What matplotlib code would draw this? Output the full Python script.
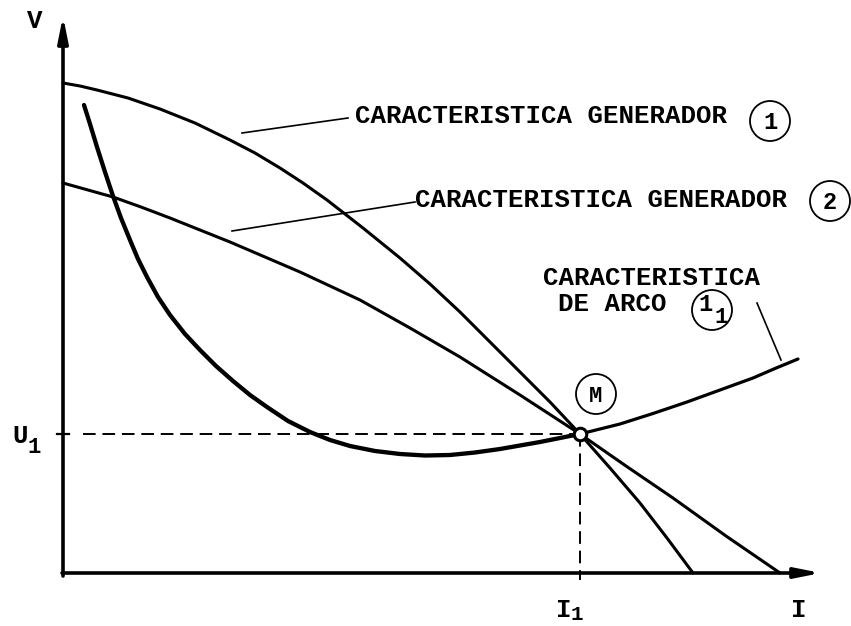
import numpy as np
import matplotlib
matplotlib.use("Agg")
import matplotlib.pyplot as plt
from matplotlib.patches import Circle

# Operating point M (current I1, voltage U1)
I1 = 5.17
U1 = 1.39

# Generator characteristic 1 (steep, falling)
gen1_I = [0.00, 0.17, 0.34, 0.65, 0.97, 1.32, 1.67, 1.92, 2.17, 2.40, 2.64,
          3.00, 3.37, 3.67, 3.97, 4.27, 4.57, 4.87, 5.17, 5.47, 5.77, 6.04, 6.30]
gen1_V = [4.90, 4.87, 4.83, 4.75, 4.64, 4.50, 4.33, 4.20, 4.05, 3.90, 3.73,
          3.45, 3.15, 2.89, 2.61, 2.31, 2.01, 1.71, 1.39, 1.05, 0.70, 0.35, 0.00]

# Generator characteristic 2 (flatter)
gen2_I = [0.00, 0.25, 0.50, 0.78, 1.07, 1.37, 1.67, 2.02, 2.37, 2.67, 2.97,
          3.47, 3.97, 4.57, 5.17, 5.63, 6.10, 6.63, 7.17]
gen2_V = [3.90, 3.83, 3.76, 3.66, 3.55, 3.43, 3.31, 3.16, 3.01, 2.87, 2.73,
          2.45, 2.16, 1.78, 1.39, 1.07, 0.75, 0.37, 0.00]

# Arc characteristic, falling part up to M
arc_I = [0.21, 0.27, 0.34, 0.42, 0.50, 0.58, 0.67, 0.75, 0.84, 0.95, 1.07,
         1.22, 1.37, 1.53, 1.70, 1.87, 2.04, 2.25, 2.47, 2.67, 2.87, 3.12,
         3.37, 3.62, 3.87, 4.12, 4.37, 4.57, 4.77, 4.97, 5.17]
arc_V = [4.68, 4.49, 4.26, 4.01, 3.77, 3.55, 3.33, 3.14, 2.96, 2.76, 2.58,
         2.39, 2.23, 2.07, 1.92, 1.78, 1.66, 1.52, 1.41, 1.33, 1.27, 1.22,
         1.19, 1.175, 1.18, 1.205, 1.24, 1.275, 1.31, 1.35, 1.39]
# rising branch after M
arc2_I = [5.17, 5.37, 5.57, 5.90, 6.24, 6.57, 6.90, 7.12, 7.35]
arc2_V = [1.39, 1.44, 1.49, 1.595, 1.71, 1.83, 1.95, 2.045, 2.14]

fig = plt.figure(figsize=(8.51, 6.26), dpi=100)
ax = fig.add_axes([0, 0, 1, 1])
ax.set_xlim(-0.63, 7.88)
ax.set_ylim(-0.53, 5.73)
ax.axis("off")

font = dict(family="Liberation Mono", weight="bold", color="black")
FS = 18.5

# axes with arrows
arrow = dict(arrowstyle="-|>,head_length=1.0,head_width=0.2", lw=2.6,
             color="black", mutation_scale=15, shrinkA=0, shrinkB=0)
ax.annotate("", xy=(0, 5.57), xytext=(0, -0.03), arrowprops=arrow)
ax.annotate("", xy=(7.58, 0), xytext=(-0.01, 0), arrowprops=arrow)

# curves
line = dict(color="black", solid_joinstyle="round", solid_capstyle="round")
ax.plot(gen1_I, gen1_V, lw=2.2, **line)
ax.plot(gen2_I, gen2_V, lw=2.2, **line)
ax.plot(arc_I, arc_V, lw=3.1, **line)
ax.plot(arc2_I, arc2_V, lw=2.3, **line)

# projection of M onto both axes
dash = (0, (6.5, 3.5))
ax.plot([-0.06, 0.06], [U1, U1], color="black", lw=1.6)
ax.plot([0.2, I1], [U1, U1], color="black", lw=1.4, linestyle=dash)
ax.plot([I1, I1], [U1, -0.07], color="black", lw=1.4, linestyle=dash)
ax.plot([I1], [U1], "o", ms=9, mfc="white", mec="black", mew=2.2, zorder=5)

# leader lines
lw_lead = 1.2
ax.plot([1.79, 2.85], [4.40, 4.55], color="black", lw=lw_lead)
ax.plot([1.69, 3.52], [3.42, 3.71], color="black", lw=lw_lead)
ax.plot([6.94, 7.18], [2.70, 2.13], color="black", lw=lw_lead)

# labels
ax.text(2.92, 4.50, "CARACTERISTICA GENERADOR", fontsize=FS, ha="left",
        va="baseline", **font)
ax.text(3.52, 3.66, "CARACTERISTICA GENERADOR", fontsize=FS, ha="left",
        va="baseline", **font)
ax.text(4.80, 2.88, "CARACTERISTICA", fontsize=FS, ha="left",
        va="baseline", **font)
ax.text(4.95, 2.62, "DE ARCO", fontsize=FS, ha="left", va="baseline", **font)

def circled(cx, cy, r=0.20):
    ax.add_patch(Circle((cx, cy), r, fill=False, lw=1.3, color="black"))

circled(7.07, 4.52)
ax.text(7.07, 4.44, "1", fontsize=17, ha="center", va="baseline", **font)
circled(7.67, 3.72)
ax.text(7.67, 3.64, "2", fontsize=17, ha="center", va="baseline", **font)
circled(6.49, 2.63)
ax.text(6.42, 2.62, "1", fontsize=17, ha="center", va="baseline", **font)
ax.text(6.58, 2.50, "1", fontsize=16, ha="center", va="baseline", **font)
circled(5.33, 1.79)
ax.text(5.33, 1.715, "M", fontsize=16, ha="center", va="baseline", **font)

# axis names
ax.text(-0.28, 5.45, "V", fontsize=FS, ha="center", va="baseline", **font)
ax.text(-0.43, 1.30, "U", fontsize=FS, ha="center", va="baseline", **font)
ax.text(-0.29, 1.20, "1", fontsize=16, ha="center", va="baseline", **font)
ax.text(5.01, -0.44, "I", fontsize=FS, ha="center", va="baseline", **font)
ax.text(5.14, -0.47, "1", fontsize=15, ha="center", va="baseline", **font)
ax.text(7.36, -0.44, "I", fontsize=FS, ha="center", va="baseline", **font)

fig.savefig("out.png", dpi=100, facecolor="white")
